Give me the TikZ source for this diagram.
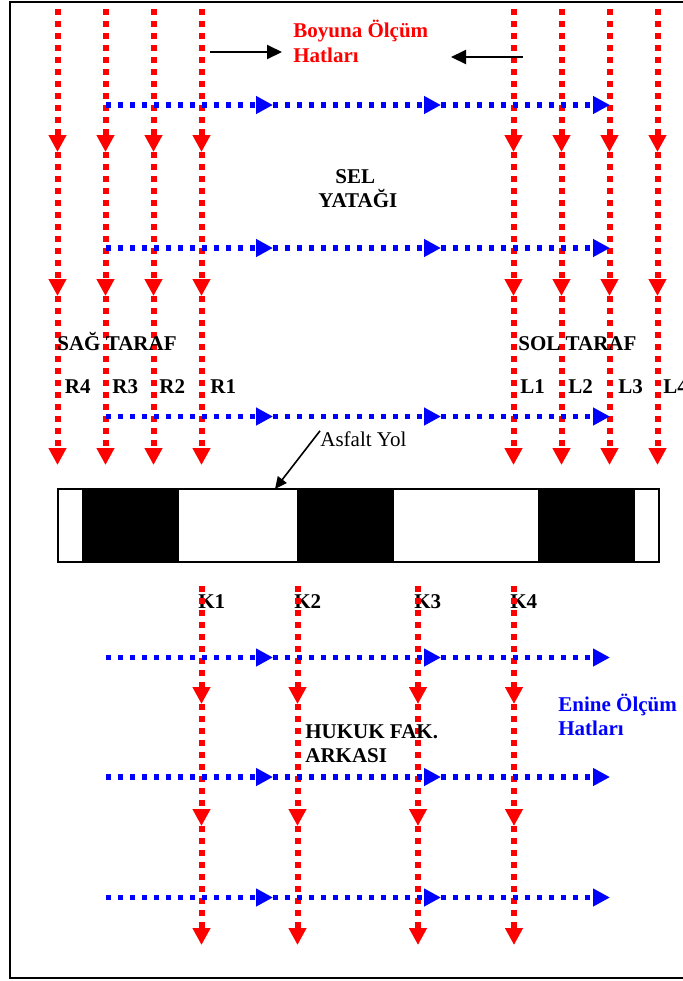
\documentclass[tikz,border=0pt]{standalone}
\usepackage{fontspec}
\setmainfont{Liberation Serif}
\usetikzlibrary{arrows.meta}

\begin{document}
\begin{tikzpicture}[x=0.5pt,y=-0.5pt,
    redline/.style={red, line width=3pt, dash pattern=on 3pt off 3pt, -{Triangle[length=8.5pt,width=8.5pt]}},
    blueline/.style={blue, line width=2.6pt, dash pattern=on 2.7pt off 3.3pt, -{Triangle[length=8.5pt,width=8.5pt]}},
    lbl/.style={font=\fontsize{10.5}{12}\selectfont\bfseries, anchor=base west, inner sep=0pt},
    pointer/.style={black, line width=1pt, -{Triangle[length=7.5pt,width=7pt]}}]

        % Page frame
        \useasboundingbox (0,0) rectangle (683,981);
        \draw[line width=1.2pt] (10,2) rectangle (720,978);

        % Upper longitudinal lines (R4..R1, L1..L4)
        \foreach \x in {57.5,105.5,153.5,201.5,513.5,561.5,609.5,657.5} {
            \draw[redline] (\x,9) -- (\x,152);
            \draw[redline] (\x,152) -- (\x,296);
            \draw[redline] (\x,296) -- (\x,465);
        }

        % Upper transverse lines
        \foreach \y in {105,248,416.5} {
            \draw[blueline] (106,\y) -- (273,\y);
            \draw[blueline] (273,\y) -- (441,\y);
            \draw[blueline] (441,\y) -- (610,\y);
        }

        % Title and pointers
        \node[lbl, red] (boyuna) at (293,37) {Boyuna Ölçüm};
        \node[lbl, red] (boyunab) at (293,62) {Hatları};
        \coordinate (ptrA) at (210,52);
        \coordinate (ptrB) at (282,52);
        \coordinate (ptrC) at (523,57);
        \coordinate (ptrD) at (451,57);
        \draw[pointer] (ptrA) -- (ptrB);
        \draw[pointer] (ptrC) -- (ptrD);

        % Area labels
        \node[lbl] (sel) at (335,183) {SEL};
        \node[lbl] (yatak) at (318,207) {YATAĞI};
        \node[lbl] (sag) at (57,350) {SAĞ TARAF};
        \node[lbl] (sol) at (518,350) {SOL TARAF};

        % Line names
        \node[lbl] (r4) at (64.5,393) {R4};
        \node[lbl] (r3) at (112,393) {R3};
        \node[lbl] (r2) at (159,393) {R2};
        \node[lbl] (r1) at (210,393) {R1};
        \node[lbl] (l1) at (520,393) {L1};
        \node[lbl] (l2) at (568,393) {L2};
        \node[lbl] (l3) at (618,393) {L3};
        \node[lbl] (l4) at (663,393) {L4};

        % Road
        \draw[line width=1pt] (57.5,489) rectangle (658.5,562);
        \fill (81.5,489) rectangle (178.5,562);
        \fill (297,489) rectangle (394,562);
        \fill (537.5,489) rectangle (634.5,562);
        \node[lbl, font=\fontsize{10.5}{12}\selectfont] (asfalt) at (320,446) {Asfalt Yol};
        \coordinate (roadtop) at (275,489);
        \draw[black, line width=0.8pt, -{Triangle[length=6pt,width=5.5pt]}] (asfalt.north west) -- (roadtop);

        % Lower line names
        \node[lbl] (k1) at (198,608) {K1};
        \node[lbl] (k2) at (294,608) {K2};
        \node[lbl] (k3) at (414,608) {K3};
        \node[lbl] (k4) at (510,608) {K4};

        % Lower longitudinal lines
        \foreach \x in {201.5,297.5,418,514} {
            \draw[redline] (\x,586) -- (\x,704);
            \draw[redline] (\x,704) -- (\x,826);
            \draw[redline] (\x,826) -- (\x,945);
        }

        % Lower transverse lines
        \foreach \y in {657.5,777,897.5} {
            \draw[blueline] (106,\y) -- (273,\y);
            \draw[blueline] (273,\y) -- (441,\y);
            \draw[blueline] (441,\y) -- (610,\y);
        }

        % Lower labels
        \node[lbl] (hukuk) at (305,738) {HUKUK FAK.};
        \node[lbl] (arka) at (305,762) {ARKASI};
        \node[lbl, blue] (enine) at (558,711) {Enine Ölçüm};
        \node[lbl, blue] (enineb) at (558,735) {Hatları};

\end{tikzpicture}
\end{document}
